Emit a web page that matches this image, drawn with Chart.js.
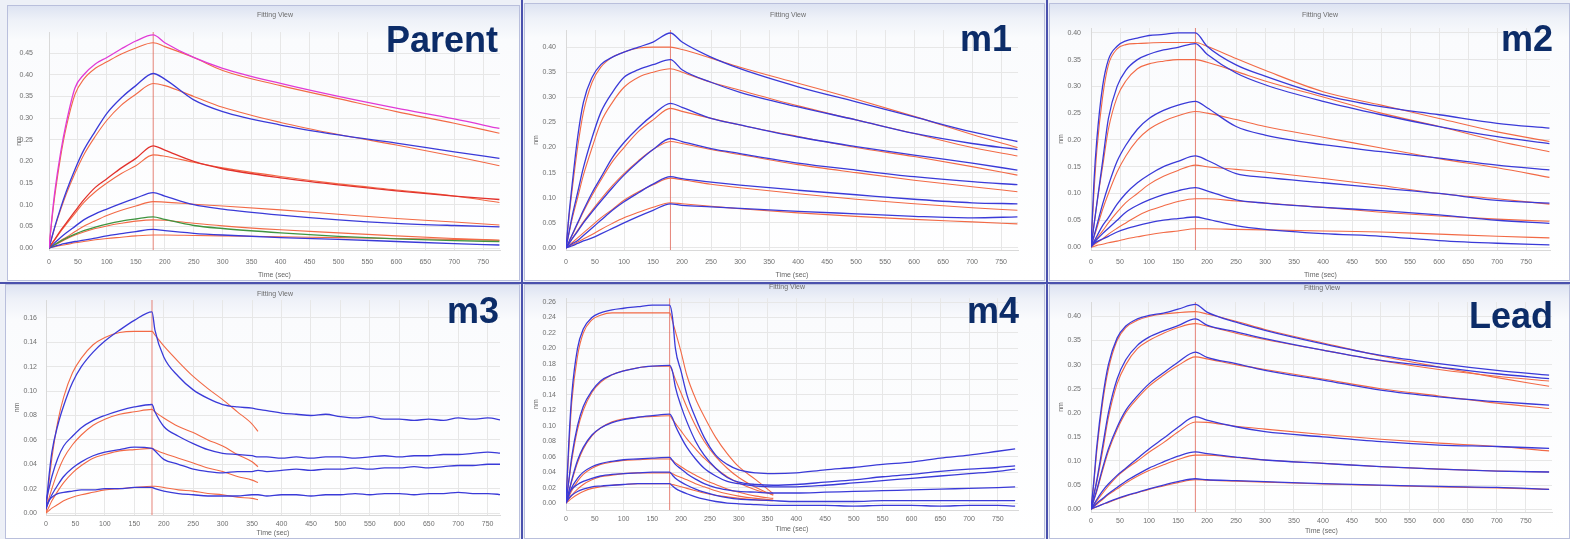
<!DOCTYPE html>
<html>
<head>
<meta charset="utf-8">
<title>Fitting View</title>
<script src="https://cdn.jsdelivr.net/npm/chart.js@4.4.1/dist/chart.umd.min.js"></script>
<style>
  html, body { margin: 0; padding: 0; }
  body { width: 1570px; height: 539px; position: relative; overflow: hidden; background: #edf0f7; font-family: "Liberation Sans", Arial, sans-serif; }
  .panel { position: absolute; box-sizing: border-box; border: 1px solid #b9bfdc; background: linear-gradient(to bottom, #dde3f2 0px, #eef1f8 14px, #fafbfd 34px, #ffffff 100%); }
  .sep { position: absolute; background: #4a51ad; }
  canvas { position: absolute; }
  .view { position: absolute; font-size: 7px; line-height: 8px; color: #6d6d6d; transform: translateX(-50%); white-space: nowrap; }
  .tag { position: absolute; left: 0; text-align: right; font-weight: bold; font-size: 36px; line-height: 36px; color: #0c2c68; }
</style>
</head>
<body>
<script>
// sensorgram data (response in nm, time in sec)
const switchTime = 180; // association -> dissociation

const parentTime = [0, 5, 10, 20, 30, 45, 60, 80, 100, 125, 150, 180, 200, 250, 300, 400, 500, 600, 700, 778];
const parentMeasured = [
  [0, 0.07, 0.13, 0.22, 0.29, 0.37, 0.40, 0.425, 0.44, 0.46, 0.478, 0.492, 0.474, 0.44, 0.415, 0.38, 0.35, 0.323, 0.298, 0.276],
  [0, 0.025, 0.049, 0.092, 0.131, 0.182, 0.226, 0.27, 0.311, 0.347, 0.375, 0.403, 0.39, 0.342, 0.315, 0.284, 0.261, 0.242, 0.222, 0.207],
  [0, 0.01, 0.02, 0.04, 0.058, 0.085, 0.111, 0.14, 0.16, 0.185, 0.207, 0.236, 0.226, 0.2, 0.183, 0.162, 0.146, 0.132, 0.12, 0.112],
  [0, 0.006, 0.012, 0.024, 0.035, 0.05, 0.065, 0.079, 0.09, 0.103, 0.115, 0.128, 0.12, 0.1, 0.09, 0.076, 0.065, 0.057, 0.052, 0.049],
  [0, 0.004, 0.008, 0.016, 0.023, 0.032, 0.04, 0.048, 0.055, 0.062, 0.067, 0.072, 0.066, 0.052, 0.045, 0.035, 0.027, 0.021, 0.017, 0.015],
  [0, 0.002, 0.004, 0.008, 0.011, 0.015, 0.018, 0.023, 0.028, 0.033, 0.038, 0.043, 0.04, 0.034, 0.03, 0.024, 0.02, 0.015, 0.01, 0.007]
];
const parentFits = [
  [0, 0.065, 0.12, 0.21, 0.28, 0.355, 0.39, 0.415, 0.43, 0.448, 0.462, 0.474, 0.465, 0.44, 0.41, 0.375, 0.345, 0.315, 0.288, 0.265],
  [0, 0.024, 0.047, 0.088, 0.125, 0.173, 0.215, 0.258, 0.295, 0.33, 0.355, 0.38, 0.375, 0.35, 0.325, 0.29, 0.262, 0.238, 0.212, 0.19],
  [0, 0.01, 0.019, 0.038, 0.055, 0.08, 0.105, 0.13, 0.15, 0.172, 0.19, 0.215, 0.212, 0.198, 0.185, 0.165, 0.148, 0.134, 0.12, 0.105],
  [0, 0.004, 0.008, 0.017, 0.025, 0.038, 0.05, 0.063, 0.075, 0.087, 0.097, 0.107, 0.106, 0.101, 0.097, 0.088, 0.078, 0.068, 0.06, 0.053],
  [0, 0.004, 0.007, 0.014, 0.021, 0.03, 0.037, 0.045, 0.051, 0.057, 0.062, 0.065, 0.064, 0.057, 0.051, 0.042, 0.035, 0.028, 0.022, 0.018],
  [0, 0.002, 0.003, 0.006, 0.008, 0.012, 0.015, 0.019, 0.022, 0.025, 0.028, 0.03, 0.03, 0.029, 0.028, 0.026, 0.024, 0.022, 0.02, 0.018]
];

const m1Time = [0, 5, 10, 20, 30, 45, 60, 80, 100, 125, 150, 180, 200, 250, 300, 400, 500, 600, 700, 778];
const m1Measured = [
  [0, 0.065, 0.12, 0.22, 0.29, 0.34, 0.365, 0.38, 0.39, 0.40, 0.41, 0.428, 0.41, 0.38, 0.357, 0.321, 0.291, 0.261, 0.231, 0.212],
  [0, 0.03, 0.06, 0.11, 0.16, 0.22, 0.27, 0.31, 0.34, 0.355, 0.365, 0.375, 0.355, 0.33, 0.31, 0.281, 0.255, 0.228, 0.208, 0.196],
  [0, 0.012, 0.025, 0.05, 0.075, 0.11, 0.14, 0.18, 0.21, 0.24, 0.265, 0.288, 0.28, 0.258, 0.245, 0.221, 0.202, 0.185, 0.169, 0.155],
  [0, 0.008, 0.017, 0.033, 0.05, 0.072, 0.093, 0.12, 0.145, 0.172, 0.196, 0.218, 0.212, 0.198, 0.188, 0.169, 0.155, 0.142, 0.132, 0.126],
  [0, 0.004, 0.008, 0.015, 0.025, 0.04, 0.055, 0.075, 0.092, 0.11, 0.127, 0.142, 0.138, 0.131, 0.125, 0.115, 0.106, 0.097, 0.09, 0.088],
  [0, 0.002, 0.004, 0.009, 0.014, 0.02, 0.028, 0.039, 0.05, 0.063, 0.075, 0.088, 0.085, 0.082, 0.079, 0.073, 0.068, 0.063, 0.06, 0.062]
];
const m1Fits = [
  [0, 0.06, 0.11, 0.2, 0.27, 0.33, 0.36, 0.38, 0.39, 0.398, 0.4, 0.4, 0.395, 0.378, 0.36, 0.328, 0.296, 0.262, 0.226, 0.2],
  [0, 0.028, 0.055, 0.1, 0.145, 0.2, 0.25, 0.29, 0.32, 0.34, 0.35, 0.357, 0.35, 0.33, 0.314, 0.283, 0.255, 0.228, 0.2, 0.183],
  [0, 0.012, 0.024, 0.048, 0.072, 0.105, 0.135, 0.172, 0.2, 0.232, 0.255, 0.278, 0.272, 0.258, 0.245, 0.222, 0.2, 0.182, 0.162, 0.145],
  [0, 0.009, 0.018, 0.035, 0.052, 0.075, 0.097, 0.124, 0.148, 0.174, 0.196, 0.212, 0.208, 0.196, 0.186, 0.166, 0.15, 0.135, 0.122, 0.112],
  [0, 0.005, 0.01, 0.02, 0.03, 0.045, 0.06, 0.077, 0.095, 0.112, 0.126, 0.139, 0.136, 0.127, 0.12, 0.108, 0.097, 0.088, 0.08, 0.075],
  [0, 0.003, 0.006, 0.012, 0.018, 0.027, 0.037, 0.049, 0.06, 0.071, 0.081, 0.09, 0.088, 0.083, 0.078, 0.07, 0.063, 0.057, 0.052, 0.048]
];

const m2Time = [0, 5, 10, 20, 30, 45, 60, 80, 100, 125, 150, 180, 200, 250, 300, 400, 500, 600, 700, 790];
const m2Measured = [
  [0, 0.12, 0.2, 0.3, 0.35, 0.375, 0.385, 0.39, 0.395, 0.397, 0.4, 0.4, 0.375, 0.34, 0.319, 0.284, 0.262, 0.247, 0.231, 0.222],
  [0, 0.04, 0.08, 0.16, 0.24, 0.3, 0.33, 0.35, 0.36, 0.368, 0.373, 0.38, 0.36, 0.325, 0.303, 0.272, 0.247, 0.225, 0.206, 0.193],
  [0, 0.02, 0.04, 0.08, 0.115, 0.16, 0.19, 0.22, 0.24, 0.255, 0.265, 0.272, 0.26, 0.225, 0.209, 0.191, 0.178, 0.166, 0.153, 0.144],
  [0, 0.01, 0.02, 0.04, 0.055, 0.08, 0.1, 0.12, 0.135, 0.15, 0.16, 0.17, 0.162, 0.137, 0.13, 0.12, 0.11, 0.1, 0.087, 0.082],
  [0, 0.008, 0.014, 0.025, 0.035, 0.05, 0.065, 0.078, 0.088, 0.098, 0.105, 0.111, 0.105, 0.088, 0.082, 0.074, 0.068, 0.06, 0.05, 0.044],
  [0, 0.006, 0.01, 0.015, 0.02, 0.028, 0.034, 0.04, 0.045, 0.05, 0.053, 0.056, 0.052, 0.04, 0.033, 0.025, 0.02, 0.012, 0.007, 0.004]
];
const m2Fits = [
  [0, 0.1, 0.18, 0.28, 0.34, 0.37, 0.378, 0.38, 0.381, 0.382, 0.382, 0.382, 0.375, 0.352, 0.33, 0.29, 0.265, 0.24, 0.215, 0.197],
  [0, 0.04, 0.08, 0.15, 0.22, 0.28, 0.31, 0.333, 0.342, 0.347, 0.35, 0.35, 0.345, 0.328, 0.31, 0.28, 0.25, 0.225, 0.198, 0.178],
  [0, 0.018, 0.035, 0.07, 0.1, 0.14, 0.17, 0.2, 0.22, 0.235, 0.245, 0.253, 0.25, 0.238, 0.225, 0.205, 0.185, 0.165, 0.148, 0.13],
  [0, 0.008, 0.016, 0.03, 0.045, 0.065, 0.083, 0.1, 0.117, 0.132, 0.143, 0.153, 0.15, 0.145, 0.14, 0.128, 0.115, 0.1, 0.09, 0.08],
  [0, 0.004, 0.008, 0.015, 0.024, 0.035, 0.045, 0.058, 0.068, 0.077, 0.085, 0.09, 0.09, 0.086, 0.082, 0.074, 0.065, 0.058, 0.052, 0.048],
  [0, 0.001, 0.003, 0.005, 0.008, 0.011, 0.015, 0.019, 0.023, 0.027, 0.03, 0.034, 0.034, 0.033, 0.032, 0.03, 0.028, 0.024, 0.02, 0.017]
];

const m3Time = [0, 5, 10, 20, 30, 45, 60, 80, 100, 125, 150, 180, 185, 200, 225, 250, 275, 300, 325, 350, 360, 375, 400, 425, 450, 475, 500, 525, 550, 575, 600, 625, 650, 675, 700, 725, 750, 775];
const m3Measured = [
  [0.005, 0.03, 0.05, 0.072, 0.088, 0.107, 0.12, 0.132, 0.141, 0.15, 0.158, 0.165, 0.15, 0.128, 0.112, 0.101, 0.094, 0.089, 0.087, 0.086, 0.085, 0.084, 0.082, 0.081, 0.08, 0.081, 0.079, 0.078, 0.079, 0.077, 0.077, 0.076, 0.077, 0.076, 0.078, 0.077, 0.078, 0.076],
  [0.01, 0.02, 0.03, 0.045, 0.055, 0.063, 0.07, 0.076, 0.08, 0.084, 0.087, 0.089, 0.083, 0.071, 0.063, 0.057, 0.052, 0.049, 0.048, 0.047, 0.046, 0.046, 0.045, 0.046, 0.045, 0.046, 0.046, 0.045, 0.046, 0.047, 0.046, 0.047, 0.047, 0.048, 0.048, 0.049, 0.05, 0.049],
  [0.005, 0.01, 0.015, 0.023, 0.03, 0.037, 0.042, 0.047, 0.05, 0.052, 0.054, 0.053, 0.051, 0.044, 0.04, 0.036, 0.034, 0.033, 0.034, 0.034, 0.035, 0.034, 0.035, 0.036, 0.035, 0.036, 0.036, 0.037, 0.036, 0.037, 0.037, 0.038, 0.037, 0.038, 0.039, 0.039, 0.04, 0.04],
  [0.003, 0.01, 0.013, 0.016, 0.017, 0.018, 0.019, 0.019, 0.02, 0.02, 0.021, 0.021, 0.02, 0.018, 0.016, 0.015, 0.014, 0.014, 0.014, 0.015, 0.015, 0.014, 0.015, 0.015, 0.014, 0.015, 0.015, 0.016, 0.015, 0.016, 0.016, 0.015, 0.016, 0.016, 0.017, 0.016, 0.016, 0.015]
];
const m3FitTime = [0, 5, 10, 20, 30, 45, 60, 80, 100, 125, 150, 180, 185, 200, 225, 250, 275, 300, 325, 350, 360];
const m3Fits = [
  [0, 0.025, 0.045, 0.075, 0.095, 0.115, 0.127, 0.138, 0.144, 0.148, 0.149, 0.149, 0.146, 0.137, 0.124, 0.112, 0.102, 0.093, 0.083, 0.073, 0.067],
  [0.003, 0.012, 0.02, 0.034, 0.045, 0.056, 0.064, 0.072, 0.077, 0.081, 0.083, 0.085, 0.083, 0.078, 0.071, 0.066, 0.06, 0.055, 0.048, 0.042, 0.038],
  [0, 0.005, 0.01, 0.018, 0.025, 0.033, 0.039, 0.045, 0.048, 0.051, 0.052, 0.053, 0.052, 0.049, 0.045, 0.041, 0.037, 0.034, 0.03, 0.027, 0.025],
  [0, 0.002, 0.004, 0.007, 0.01, 0.013, 0.015, 0.017, 0.019, 0.02, 0.021, 0.022, 0.022, 0.021, 0.019, 0.018, 0.016, 0.015, 0.013, 0.012, 0.011]
];

const m4Time = [0, 5, 10, 20, 30, 45, 60, 80, 100, 125, 150, 180, 185, 190, 200, 210, 225, 240, 260, 280, 300, 330, 360, 400, 450, 500, 550, 600, 650, 700, 750, 780];
const m4Measured = [
  [0, 0.08, 0.14, 0.2, 0.225, 0.24, 0.246, 0.25, 0.252, 0.254, 0.256, 0.256, 0.24, 0.2, 0.17, 0.14, 0.11, 0.085, 0.062, 0.05, 0.043, 0.039, 0.038, 0.039, 0.043, 0.046, 0.05, 0.053, 0.058, 0.062, 0.067, 0.07],
  [0, 0.03, 0.06, 0.1, 0.125, 0.145, 0.158, 0.166, 0.171, 0.175, 0.177, 0.178, 0.17, 0.15, 0.125, 0.105, 0.08, 0.062, 0.045, 0.033, 0.027, 0.024, 0.023, 0.024, 0.027, 0.03, 0.034, 0.037, 0.041, 0.044, 0.046, 0.048],
  [0, 0.015, 0.03, 0.055, 0.072, 0.088, 0.097, 0.104, 0.108, 0.111, 0.113, 0.115, 0.11, 0.1, 0.085, 0.072, 0.057, 0.045, 0.035, 0.028, 0.025, 0.022, 0.021, 0.021, 0.023, 0.026, 0.029, 0.032, 0.035, 0.038, 0.041, 0.044],
  [0, 0.01, 0.02, 0.032, 0.04, 0.047, 0.051, 0.054, 0.056, 0.057, 0.058, 0.059, 0.055, 0.05, 0.044, 0.038, 0.031, 0.025, 0.02, 0.017, 0.015, 0.014, 0.013, 0.013, 0.014, 0.015, 0.016, 0.017, 0.018, 0.019, 0.02, 0.021],
  [0, 0.012, 0.018, 0.024, 0.028, 0.032, 0.035, 0.037, 0.038, 0.039, 0.04, 0.04, 0.036, 0.032, 0.027, 0.023, 0.018, 0.014, 0.01, 0.007, 0.005, 0.004, 0.003, 0.002, 0.002, 0.002, 0.003, 0.003, 0.003, 0.003, 0.003, 0.003],
  [0, 0.006, 0.01, 0.015, 0.018, 0.021, 0.022, 0.023, 0.024, 0.025, 0.025, 0.025, 0.022, 0.019, 0.015, 0.012, 0.008, 0.005, 0.002, 0, -0.001, -0.002, -0.003, -0.003, -0.003, -0.004, -0.003, -0.003, -0.004, -0.003, -0.003, -0.004]
];
const m4FitTime = [0, 5, 10, 20, 30, 45, 60, 80, 100, 125, 150, 180, 185, 190, 200, 210, 225, 240, 260, 280, 300, 330, 360];
const m4Fits = [
  [0, 0.07, 0.13, 0.19, 0.22, 0.237, 0.243, 0.246, 0.246, 0.246, 0.246, 0.246, 0.235, 0.222, 0.195, 0.165, 0.135, 0.112, 0.085, 0.064, 0.047, 0.03, 0.012],
  [0, 0.028, 0.055, 0.095, 0.12, 0.143, 0.156, 0.166, 0.171, 0.175, 0.177, 0.177, 0.17, 0.16, 0.142, 0.124, 0.1, 0.08, 0.06, 0.045, 0.033, 0.02, 0.01],
  [0, 0.014, 0.028, 0.052, 0.07, 0.087, 0.097, 0.105, 0.109, 0.111, 0.112, 0.113, 0.108, 0.103, 0.093, 0.083, 0.07, 0.058, 0.045, 0.034, 0.026, 0.017, 0.011],
  [0, 0.008, 0.016, 0.028, 0.037, 0.045, 0.05, 0.053, 0.055, 0.056, 0.057, 0.057, 0.055, 0.052, 0.047, 0.042, 0.036, 0.03, 0.024, 0.018, 0.014, 0.009, 0.006],
  [0, 0.005, 0.01, 0.018, 0.024, 0.03, 0.034, 0.036, 0.038, 0.039, 0.039, 0.039, 0.038, 0.036, 0.033, 0.03, 0.025, 0.021, 0.016, 0.012, 0.009, 0.006, 0.004],
  [0, 0.003, 0.006, 0.011, 0.015, 0.019, 0.021, 0.023, 0.024, 0.025, 0.025, 0.025, 0.024, 0.023, 0.021, 0.019, 0.016, 0.013, 0.01, 0.008, 0.006, 0.004, 0.003]
];

const leadTime = [0, 5, 10, 20, 30, 45, 60, 80, 100, 125, 150, 180, 200, 250, 300, 400, 500, 600, 700, 790];
const leadMeasured = [
  [0, 0.06, 0.13, 0.23, 0.3, 0.355, 0.38, 0.395, 0.402, 0.407, 0.415, 0.425, 0.409, 0.388, 0.371, 0.343, 0.319, 0.302, 0.288, 0.278],
  [0, 0.03, 0.06, 0.13, 0.2, 0.27, 0.31, 0.34, 0.357, 0.37, 0.381, 0.395, 0.382, 0.368, 0.354, 0.33, 0.309, 0.295, 0.281, 0.271],
  [0, 0.02, 0.04, 0.085, 0.125, 0.17, 0.205, 0.235, 0.26, 0.283, 0.305, 0.326, 0.315, 0.302, 0.288, 0.268, 0.247, 0.233, 0.223, 0.216],
  [0, 0.01, 0.02, 0.038, 0.052, 0.07, 0.085, 0.105, 0.125, 0.147, 0.17, 0.192, 0.185, 0.171, 0.161, 0.15, 0.14, 0.133, 0.13, 0.126],
  [0, 0.006, 0.012, 0.022, 0.032, 0.045, 0.058, 0.072, 0.085, 0.098, 0.11, 0.119, 0.115, 0.108, 0.102, 0.095, 0.088, 0.083, 0.079, 0.077],
  [0, 0.003, 0.005, 0.01, 0.015, 0.022, 0.028, 0.035, 0.042, 0.05, 0.057, 0.063, 0.061, 0.059, 0.057, 0.053, 0.05, 0.047, 0.045, 0.041]
];
const leadFits = [
  [0, 0.055, 0.12, 0.22, 0.29, 0.35, 0.377, 0.392, 0.4, 0.405, 0.408, 0.41, 0.405, 0.39, 0.373, 0.345, 0.318, 0.295, 0.273, 0.255],
  [0, 0.028, 0.056, 0.12, 0.19, 0.26, 0.3, 0.333, 0.35, 0.365, 0.377, 0.385, 0.38, 0.365, 0.352, 0.33, 0.308, 0.29, 0.276, 0.266],
  [0, 0.018, 0.037, 0.08, 0.12, 0.165, 0.2, 0.23, 0.255, 0.278, 0.298, 0.316, 0.312, 0.3, 0.29, 0.27, 0.25, 0.235, 0.22, 0.209],
  [0, 0.008, 0.017, 0.033, 0.048, 0.068, 0.083, 0.1, 0.118, 0.138, 0.16, 0.181, 0.18, 0.172, 0.166, 0.155, 0.145, 0.137, 0.13, 0.121],
  [0, 0.005, 0.01, 0.02, 0.03, 0.042, 0.054, 0.068, 0.08, 0.092, 0.103, 0.112, 0.112, 0.107, 0.102, 0.095, 0.088, 0.083, 0.079, 0.077],
  [0, 0.002, 0.005, 0.01, 0.014, 0.021, 0.027, 0.034, 0.041, 0.048, 0.055, 0.061, 0.06, 0.058, 0.056, 0.052, 0.049, 0.046, 0.044, 0.041]
];

const BLUE = '#3a3ad8';
const FIT = '#f26a46';
const MAGENTA = '#e03ad6';
const RED = '#e2312c';
const GREEN = '#3f9440';

Chart.defaults.font.family = '"Liberation Sans", Arial, sans-serif';

// box = panel frame [x, y, w, h]; plot = chart area [left, top, right, bottom]
const panels = [
  { name: 'Parent', box: [7, 5, 513, 276], plot: [49, 32, 500, 250], yMin: -0.0046, yMax: 0.4988, yStep: 0.05, xMax: 779,
    time: parentTime, fitTime: parentTime, measured: parentMeasured, fits: parentFits,
    colors: [MAGENTA, BLUE, RED, BLUE, GREEN, BLUE], view: [275, 15], tag: [498, 53], yPad: 16, xPad: 8, titlePad: 2 },
  { name: 'm1', box: [524, 3, 521, 278], plot: [566, 30, 1018, 250], yMin: -0.004, yMax: 0.434, yStep: 0.05, xMax: 779,
    time: m1Time, fitTime: m1Time, measured: m1Measured, fits: m1Fits,
    colors: [], view: [788, 15], tag: [1012, 52], yPad: 10, xPad: 8, titlePad: 2 },
  { name: 'm2', box: [1049, 3, 521, 278], plot: [1091, 28, 1550, 250], yMin: -0.0056, yMax: 0.409, yStep: 0.05, xMax: 791,
    time: m2Time, fitTime: m2Time, measured: m2Measured, fits: m2Fits,
    colors: [], view: [1320, 15], tag: [1553, 52], yPad: 10, xPad: 8, titlePad: 2 },
  { name: 'm3', box: [5, 284, 515, 255], plot: [46, 300, 500, 515], yMin: -0.0016, yMax: 0.1747, yStep: 0.02, xMax: 771,
    time: m3Time, fitTime: m3FitTime, measured: m3Measured, fits: m3Fits,
    colors: [], view: [275, 294], tag: [499, 324], yPad: 9, xPad: 5, titlePad: 2 },
  { name: 'm4', box: [524, 284, 521, 255], plot: [566, 297, 1018, 510], yMin: -0.009, yMax: 0.265, yStep: 0.02, xMax: 785,
    time: m4Time, fitTime: m4FitTime, measured: m4Measured, fits: m4Fits,
    colors: [], view: [787, 287], tag: [1019, 324], yPad: 10, xPad: 5, titlePad: 6 },
  { name: 'Lead', box: [1049, 284, 521, 255], plot: [1091, 302, 1552, 512], yMin: -0.006, yMax: 0.43, yStep: 0.05, xMax: 795,
    time: leadTime, fitTime: leadTime, measured: leadMeasured, fits: leadFits,
    colors: [], view: [1322, 288], tag: [1553, 329], yPad: 10, xPad: 5, titlePad: 4 }
];

function toPoints(times, values) {
  return values.map((v, i) => ({ x: times[i], y: v }));
}

function addDiv(cls, css, text) {
  const d = document.createElement('div');
  d.className = cls;
  Object.assign(d.style, css);
  if (text) d.textContent = text;
  document.body.appendChild(d);
  return d;
}

panels.forEach(p => {
  const [bx, by, bw, bh] = p.box;
  const [left, top, right, bottom] = p.plot;

  addDiv('panel', { left: bx + 'px', top: by + 'px', width: bw + 'px', height: bh + 'px' });

  const canvas = document.createElement('canvas');
  canvas.width = bw;
  canvas.height = bh;
  canvas.style.left = bx + 'px';
  canvas.style.top = by + 'px';
  document.body.appendChild(canvas);

  const datasets = [];
  p.measured.forEach((vals, i) => {
    datasets.push({ data: toPoints(p.time, vals), borderColor: p.colors[i] || BLUE, borderWidth: 1.3 });
  });
  p.fits.forEach(vals => {
    datasets.push({ data: toPoints(p.fitTime, vals), borderColor: FIT, borderWidth: 1.1 });
  });
  datasets.push({
    data: [{ x: switchTime, y: p.yMin }, { x: switchTime, y: p.yMax }],
    borderColor: 'rgba(226, 110, 96, 0.85)', borderWidth: 1, cubicInterpolationMode: 'default', tension: 0
  });

  new Chart(canvas, {
    type: 'line',
    data: { datasets },
    options: {
      responsive: false,
      animation: false,
      events: [],
      layout: { padding: { left: 0, top: top - by, right: bx + bw - right, bottom: 0 } },
      plugins: { legend: { display: false }, tooltip: { enabled: false } },
      elements: {
        point: { radius: 0 },
        line: { cubicInterpolationMode: 'monotone', borderJoinStyle: 'round', fill: false }
      },
      scales: {
        x: {
          type: 'linear', min: 0, max: p.xMax,
          afterFit: s => { s.height = by + bh - bottom; },
          grid: { color: '#e7e7e7', drawTicks: false },
          border: { color: '#d9d9d9' },
          ticks: { stepSize: 50, includeBounds: false, autoSkip: false, maxRotation: 0, padding: p.xPad,
                   color: '#6f6f6f', font: { size: 7 }, callback: v => String(v) },
          title: { display: true, text: 'Time (sec)', color: '#666', font: { size: 7 }, padding: { top: 0, bottom: p.titlePad } }
        },
        y: {
          type: 'linear', min: p.yMin, max: p.yMax,
          afterFit: s => { s.width = left - bx; },
          grid: { color: '#e7e7e7', drawTicks: false },
          border: { color: '#d9d9d9' },
          ticks: { stepSize: p.yStep, includeBounds: false, autoSkip: false, maxTicksLimit: 100, padding: p.yPad,
                   color: '#6f6f6f', font: { size: 7 }, callback: v => Number(v).toFixed(2) },
          title: { display: true, text: 'nm', color: '#666', font: { size: 7 }, padding: { top: 8, bottom: 0 } }
        }
      }
    }
  });

  addDiv('view', { left: p.view[0] + 'px', top: (p.view[1] - 4) + 'px' }, 'Fitting View');
  addDiv('tag', { width: p.tag[0] + 'px', top: (p.tag[1] - 31) + 'px' }, p.name);
});

// dark frame lines between the windows
addDiv('sep', { left: '521px', top: '0px', width: '2px', height: '539px' });
addDiv('sep', { left: '1046px', top: '0px', width: '2px', height: '539px' });
addDiv('sep', { left: '0px', top: '282px', width: '1570px', height: '2px' });
</script>
</body>
</html>
